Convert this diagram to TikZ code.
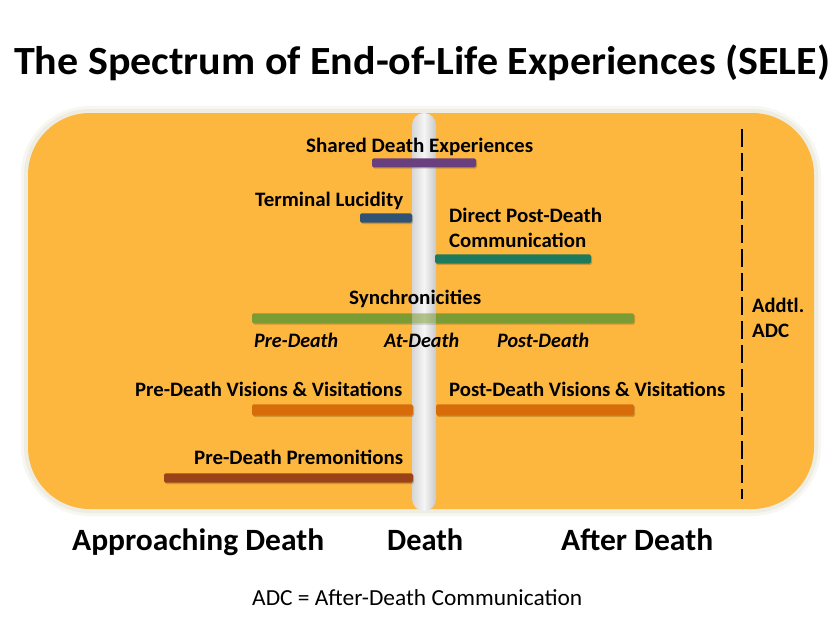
\documentclass[tikz,border=0pt]{standalone}
\usepackage{fontspec}
\setmainfont{Carlito}
\usepackage{graphicx}
\definecolor{panel}{HTML}{FDB73E}
\definecolor{glow}{HTML}{EEEDE3}
\definecolor{cpurple}{HTML}{6A3F7E}
\definecolor{cblue}{HTML}{2F5275}
\definecolor{cteal}{HTML}{1E7A5C}
\definecolor{cgreen}{HTML}{7B9B35}
\definecolor{corange}{HTML}{D66C0A}
\definecolor{cbrown}{HTML}{9B4219}
\definecolor{bandL}{HTML}{D6D6D6}
\definecolor{bandR}{HTML}{C9C9C9}
\newcommand\fitw[2]{\resizebox{#1pt}{\height}{#2}}
\tikzset{
  lab/.style={anchor=base west, inner sep=0pt, font=\bfseries\fontsize{20.5}{20.5}\selectfont},
  itlab/.style={lab, font=\bfseries\itshape\fontsize{20.5}{20.5}\selectfont},
  bigl/.style={anchor=base west, inner sep=0pt, font=\bfseries\fontsize{31}{31}\selectfont},
  bar/.style={fill=#1, rounded corners=1.5pt},
  barshadow/.style={fill=black, opacity=0.18, rounded corners=1.5pt},
  bandshade/.style={left color=bandL, right color=bandR, middle color=white!96!black, rounded corners=12pt}
}
\begin{document}
\begin{tikzpicture}[x=1pt,y=-1pt]
\useasboundingbox (0,0) rectangle (836,626);
\fill[white] (0,0) rectangle (836,626);
% title
\node[anchor=base west, inner sep=0pt, font=\bfseries\fontsize{40}{40}\selectfont] (title) at (14,75) {\fitw{816}{The Spectrum of End-of-Life Experiences (SELE)}};
% panel with glow
\fill[glow!50!white, rounded corners=69pt] (21,106) rectangle (821,516);
\fill[glow, rounded corners=66pt] (24,109) rectangle (818,513);
\fill[panel, rounded corners=62pt] (28,113) rectangle (814,509);
% band
\shade[bandshade] (412,113) rectangle (436,511);
% synchronicities bar with band overlay
\fill[barshadow] (253,314.5) rectangle (635,324.5);
\fill[bar=cgreen] (252,313.3) rectangle (634,323.3);
\begin{scope}
  \clip (412,313) rectangle (436,323.5);
  \shade[bandshade, opacity=0.45] (412,113) rectangle (436,511);
\end{scope}
% other bars
\foreach \xa/\ya/\xb/\yb/\c in {372/158.3/476/167.3/cpurple, 360/213.3/412/222.7/cblue, 435/254.3/591/263.5/cteal, 252/404.3/413/415.5/corange, 436/404.3/634/415.5/corange, 164/473.3/413/482.7/cbrown}{
  \fill[barshadow] (\xa+1,\ya+1.3) rectangle (\xb+1,\yb+1.3);
  \fill[bar=\c] (\xa,\ya) rectangle (\xb,\yb);
}
% dashed separator
\coordinate (dtop) at (742,129);
\coordinate (dbot) at (742,499);
\draw[line width=1.8pt, dash pattern=on 18pt off 6pt] (dtop) -- (dbot);
% labels
\node[lab] (sde) at (306,152.5) {\fitw{227}{Shared Death Experiences}};
\node[lab] (tl) at (255,206) {\fitw{148}{Terminal Lucidity}};
\node[lab] (dpd1) at (449,222) {\fitw{153}{Direct Post-Death}};
\node[lab] (dpd2) at (449,247) {\fitw{137}{Communication}};
\node[lab] (syn) at (349,304) {\fitw{132}{Synchronicities}};
\node[itlab] (pre) at (254,347.5) {\fitw{84}{Pre-Death}};
\node[itlab] (at) at (384,347.5) {\fitw{75}{At-Death}};
\node[itlab] (post) at (497,347.5) {\fitw{92}{Post-Death}};
\node[lab] (pdv) at (135,396) {\fitw{267}{Pre-Death Visions \& Visitations}};
\node[lab] (podv) at (449,396) {\fitw{276}{Post-Death Visions \& Visitations}};
\node[lab] (prem) at (194,464) {\fitw{209}{Pre-Death Premonitions}};
\node[lab] (addtl) at (752,312.5) {\fitw{52}{Addtl.}};
\node[lab] (adc) at (752,337) {\fitw{37}{ADC}};
% axis labels
\node[bigl] (appr) at (72,550) {\fitw{252}{Approaching Death}};
\node[bigl] (death) at (387,550) {\fitw{76}{Death}};
\node[bigl] (after) at (561,550) {\fitw{152}{After Death}};
\node[anchor=base west, inner sep=0pt, font=\fontsize{23}{23}\selectfont] (legend) at (252,605) {\fitw{330}{ADC = After-Death Communication}};
\end{tikzpicture}
\end{document}
